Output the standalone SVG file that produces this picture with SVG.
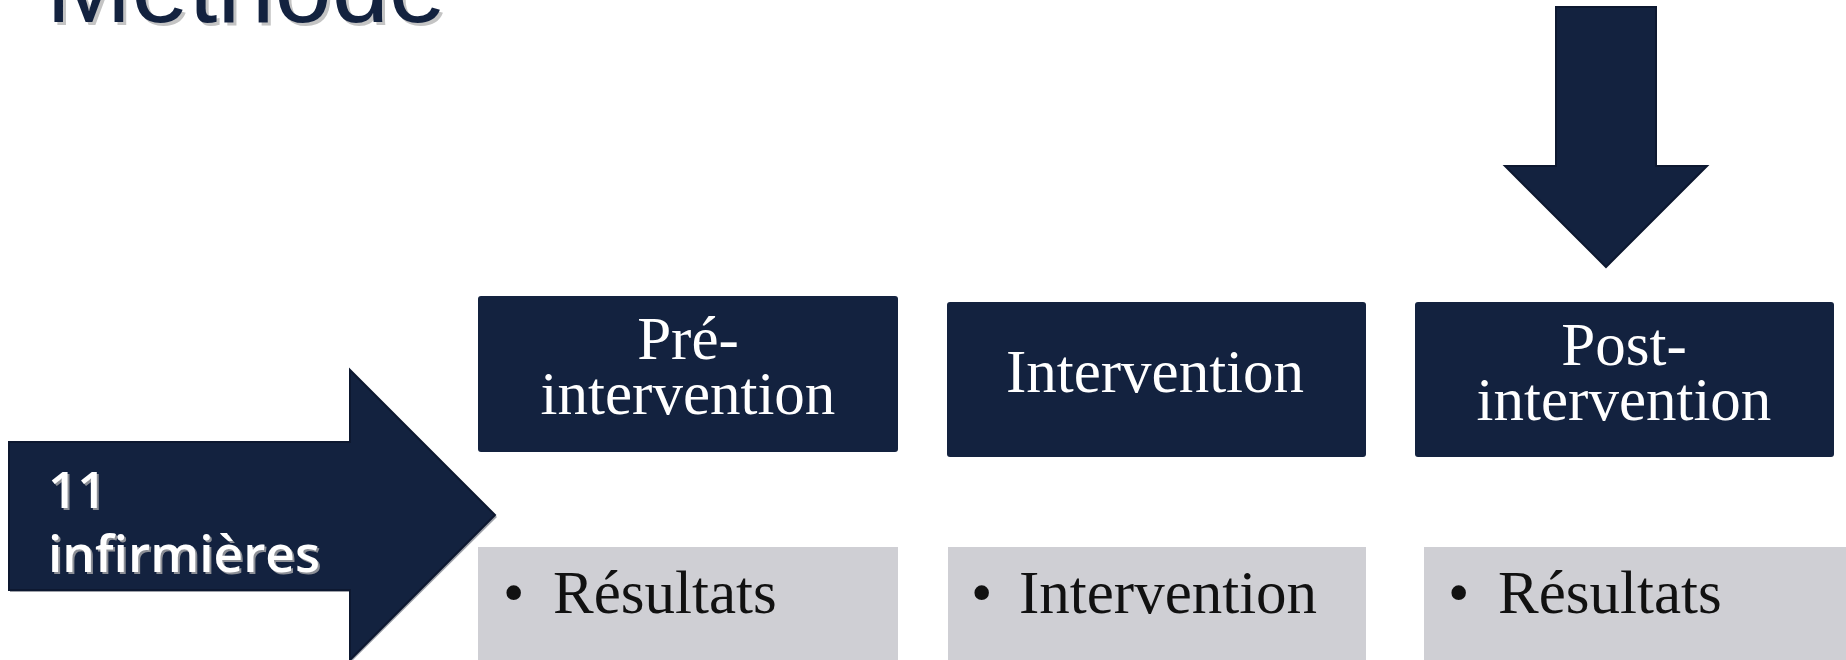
<svg xmlns="http://www.w3.org/2000/svg" width="1846" height="660" viewBox="0 0 1846 660">
  <style>
    .navy { fill: #13223f; }
    .edge { stroke: #0d1830; stroke-width: 2; stroke-linejoin: miter; }
    .shade { fill: #9da0a8; }
    .head { font-family: "Liberation Serif", "Times New Roman", serif; font-size: 61px; fill: #ffffff; text-anchor: middle; }
    .item { font-family: "Liberation Serif", "Times New Roman", serif; font-size: 61px; fill: #111111; }
    .card { fill: #13223f; }
    .note { fill: #cfcfd4; }
    .lead { font-family: "Open Sans", "Liberation Sans", sans-serif; font-size: 51px; font-weight: 600; fill: #ffffff; }
    .leadShadow { font-family: "Open Sans", "Liberation Sans", sans-serif; font-size: 51px; font-weight: 600; fill: #8c8f96; }
    .title { font-family: "Liberation Sans", Arial, sans-serif; font-size: 104px; }
  </style>

  <rect width="1846" height="660" fill="#ffffff"/>

  <!-- Page title, partly above the top edge -->
  <g id="title">
    <text class="title" x="49" y="25" fill="#c4c4c4" textLength="400" lengthAdjust="spacingAndGlyphs">Méthode</text>
    <text class="title" x="46" y="22" fill="#13223f" textLength="400" lengthAdjust="spacingAndGlyphs">Méthode</text>
  </g>

  <!-- Block arrows -->
  <g id="connectors">
    <g id="arrow-participants">
      <polygon class="shade" points="10,444 351,444 351,372 497,517 351,662 351,592 10,592"/>
      <polygon class="navy edge" points="9,442 350,442 350,370 495,515 350,660 350,590 9,590"/>
    </g>
    <g id="arrow-down">
      <polygon class="navy edge" points="1556,7 1656,7 1656,166 1707,166 1606,267 1505,166 1556,166"/>
    </g>
  </g>

  <!-- Participants label inside the horizontal arrow -->
  <g id="node-participants">
    <text class="leadShadow" x="50" y="510">11</text>
    <text class="leadShadow" x="50" y="574" textLength="272" lengthAdjust="spacingAndGlyphs">infirmières</text>
    <text class="lead" x="48" y="508">11</text>
    <text class="lead" x="48" y="572" textLength="272" lengthAdjust="spacingAndGlyphs">infirmières</text>
  </g>

  <!-- Phase headers -->
  <g id="node-pre">
    <rect class="card" x="478" y="296" width="420" height="156" rx="3"/>
    <text class="head" x="688" y="359">Pré-</text>
    <text class="head" x="688" y="414">intervention</text>
  </g>
  <g id="node-intervention">
    <rect class="card" x="947" y="302" width="419" height="155" rx="3"/>
    <text class="head" x="1155" y="392">Intervention</text>
  </g>
  <g id="node-post">
    <rect class="card" x="1415" y="302" width="419" height="155" rx="3"/>
    <text class="head" x="1624" y="365">Post-</text>
    <text class="head" x="1624" y="420">intervention</text>
  </g>

  <!-- Phase contents -->
  <g id="node-pre-content">
    <rect class="note" x="478" y="547" width="420" height="113"/>
    <text class="item" x="503" y="613">•</text>
    <text class="item" x="553" y="613">Résultats</text>
  </g>
  <g id="node-intervention-content">
    <rect class="note" x="948" y="547" width="418" height="113"/>
    <text class="item" x="971" y="613">•</text>
    <text class="item" x="1019" y="613">Intervention</text>
  </g>
  <g id="node-post-content">
    <rect class="note" x="1424" y="547" width="422" height="113"/>
    <text class="item" x="1448" y="613">•</text>
    <text class="item" x="1498" y="613">Résultats</text>
  </g>
</svg>
